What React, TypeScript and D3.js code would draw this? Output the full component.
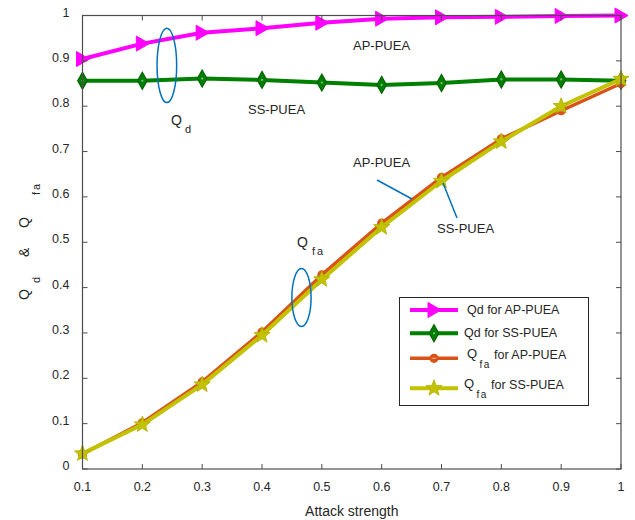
import React from 'react';
import * as d3 from 'd3';

// attack strength (x) and the four curves
const strength = [0.1, 0.2, 0.3, 0.4, 0.5, 0.6, 0.7, 0.8, 0.9, 1.0];
const qdAP = [0.904, 0.938, 0.962, 0.972, 0.984, 0.993, 0.996, 0.997, 0.999, 1.0];
const qdSS = [0.856, 0.856, 0.861, 0.858, 0.852, 0.847, 0.851, 0.859, 0.859, 0.856];
const qfaAP = [0.033, 0.102, 0.192, 0.302, 0.428, 0.542, 0.643, 0.728, 0.79, 0.85];
const qfaSS = [0.034, 0.098, 0.186, 0.295, 0.418, 0.533, 0.635, 0.722, 0.8, 0.86];

const xTicks = [0.1, 0.2, 0.3, 0.4, 0.5, 0.6, 0.7, 0.8, 0.9, 1];
const yTicks = [0, 0.1, 0.2, 0.3, 0.4, 0.5, 0.6, 0.7, 0.8, 0.9, 1];

const legendLabels = ['Qd for AP-PUEA', 'Qd for SS-PUEA', 'for AP-PUEA', 'for SS-PUEA'];

const width = 635;
const height = 520;
const margin = { top: 15.5, right: 14, bottom: 51, left: 82.5 };

const FONT = '"Liberation Sans", Arial, Helvetica, sans-serif';
const AXIS = '#4d4d4d';
const TEXT = '#262626';
const BLUE = '#0072bd';

const colors = {
  ap: '#ff00ff',
  ss: '#008000',
  faAP: '#d95319',
  faSS: '#c2c200',
};

function starPath(R: number) {
  const r = R * 0.42;
  const pts: string[] = [];
  for (let i = 0; i < 10; i++) {
    const rad = i % 2 === 0 ? R : r;
    const a = -Math.PI / 2 + (i * Math.PI) / 5;
    pts.push(`${(rad * Math.cos(a)).toFixed(2)},${(rad * Math.sin(a)).toFixed(2)}`);
  }
  return `M${pts.join('L')}Z`;
}

const Marker = ({ kind, x, y }: { kind: string; x: number; y: number }) => {
  if (kind === 'ap') {
    return <path d="M-6,-7.5L7,0L-6,7.5Z" transform={`translate(${x},${y})`} fill={colors.ap} stroke={colors.ap} strokeWidth={1} />;
  }
  if (kind === 'ss') {
    return (
      <g transform={`translate(${x},${y})`}>
        <path d="M0,-8.5L4.8,0L0,8.5L-4.8,0Z" fill={colors.ss} stroke="#006400" strokeWidth={1.2} />
        <circle r={1.1} fill="#7fbf7f" />
      </g>
    );
  }
  if (kind === 'faAP') {
    return (
      <g transform={`translate(${x},${y})`}>
        <circle r={4.6} fill={colors.faAP} />
        <rect x={-2.2} y={-0.6} width={4.4} height={1.2} fill="#f0a07a" />
      </g>
    );
  }
  return <path d={starPath(8.5)} transform={`translate(${x},${y})`} fill={colors.faSS} stroke="#b0b000" strokeWidth={0.8} />;
};

const App: React.FC = () => {
  const x = d3.scaleLinear().domain([0.1, 1]).range([margin.left, width - margin.right]);
  const y = d3.scaleLinear().domain([0, 1]).range([height - margin.bottom, margin.top]);

  const line = d3
    .line<[number, number]>()
    .x((d) => x(d[0]))
    .y((d) => y(d[1]));

  const series = [
    { kind: 'ss', values: qdSS, w: 4 },
    { kind: 'ap', values: qdAP, w: 4 },
    { kind: 'faAP', values: qfaAP, w: 3.5 },
    { kind: 'faSS', values: qfaSS, w: 4 },
  ];
  const legendOrder = ['ap', 'ss', 'faAP', 'faSS'];

  const x0 = margin.left;
  const x1 = width - margin.right;
  const y0 = height - margin.bottom;
  const y1 = margin.top;

  // legend geometry (rows, and the slightly uneven text offsets of the original)
  const lg = { x: 399.5, y: 297.5, w: 189, h: 108 };
  const legendRows = [310, 333.3, 358.3, 388.3];
  const legendText = [467, 464, 467, 464];

  return (
    <svg width={width} height={height} style={{ position: 'absolute', left: 0, top: 0, background: '#fff' }} fontFamily={FONT}>
      <rect width={width} height={height} fill="#fff" />

      {/* curves */}
      {series.map((s) => (
        <g key={s.kind}>
          <path
            d={line(strength.map((v, i) => [v, s.values[i]]))!}
            fill="none"
            stroke={colors[s.kind as keyof typeof colors]}
            strokeWidth={s.w}
            strokeLinejoin="round"
          />
          {strength.map((v, i) => (
            <Marker key={i} kind={s.kind} x={x(v)} y={y(s.values[i])} />
          ))}
        </g>
      ))}

      {/* box + ticks */}
      <rect x={x0} y={y1} width={x1 - x0} height={y0 - y1} fill="none" stroke={AXIS} strokeWidth={1.2} />
      {xTicks.map((t) => (
        <g key={`xt${t}`}>
          <line x1={x(t)} x2={x(t)} y1={y0} y2={y0 - 5} stroke={AXIS} />
          <line x1={x(t)} x2={x(t)} y1={y1} y2={y1 + 5} stroke={AXIS} />
          <text x={x(t)} y={y0 + 22} textAnchor="middle" fontSize={12.5} fill={TEXT}>
            {d3.format('~g')(t)}
          </text>
        </g>
      ))}
      {yTicks.map((t) => (
        <g key={`yt${t}`}>
          <line x1={x0} x2={x0 + 5} y1={y(t)} y2={y(t)} stroke={AXIS} />
          <line x1={x1} x2={x1 - 5} y1={y(t)} y2={y(t)} stroke={AXIS} />
          <text x={x0 - 13} y={y(t) + 1} textAnchor="end" fontSize={12.5} fill={TEXT}>
            {d3.format('~g')(t)}
          </text>
        </g>
      ))}

      {/* axis labels */}
      <text x={(x0 + x1) / 2} y={516} textAnchor="middle" fontSize={14} fill={TEXT}>
        Attack strength
      </text>
      <g transform="rotate(-90)" fill={TEXT}>
        <text x={-300} y={29} fontSize={14}>Q</text>
        <text x={-283} y={40} fontSize={11}>d</text>
        <text x={-257} y={29} fontSize={14}>&amp;</text>
        <text x={-228} y={29} fontSize={14}>Q</text>
        <text x={-195} y={40} fontSize={11} letterSpacing={2}>fa</text>
      </g>

      {/* annotations */}
      <ellipse cx={x(0.241)} cy={y(0.89)} rx={9.8} ry={37.2} fill="none" stroke={BLUE} strokeWidth={1.5} />
      <ellipse cx={x(0.466)} cy={y(0.378)} rx={9.6} ry={29} fill="none" stroke={BLUE} strokeWidth={1.5} />
      <line x1={377} y1={180} x2={412} y2={199} stroke={BLUE} strokeWidth={1.5} />
      <line x1={443} y1={183} x2={457} y2={218} stroke={BLUE} strokeWidth={1.5} />

      <g fontSize={13} fill={TEXT}>
        <text x={353} y={50}>AP-PUEA</text>
        <text x={248} y={114}>SS-PUEA</text>
        <text x={353} y={167}>AP-PUEA</text>
        <text x={437} y={233}>SS-PUEA</text>
        <text x={171} y={125} fontSize={14}>Q</text>
        <text x={185} y={133} fontSize={11}>d</text>
        <text x={297} y={247} fontSize={14}>Q</text>
        <text x={312} y={255} fontSize={11} letterSpacing={2}>fa</text>
      </g>

      {/* legend */}
      <rect x={lg.x} y={lg.y} width={lg.w} height={lg.h} fill="#fff" stroke="#262626" strokeWidth={1} />
      {legendOrder.map((kind, i) => {
        const s = series.find((d) => d.kind === kind)!;
        const ly = legendRows[i];
        const tx = legendText[i];
        return (
          <g key={`lg${kind}`}>
            <line x1={410} x2={458} y1={ly} y2={ly} stroke={colors[kind as keyof typeof colors]} strokeWidth={s.w} />
            <Marker kind={kind} x={434} y={ly} />
            {i < 2 ? (
              <text x={tx} y={ly + 4} fontSize={12.5} fill={TEXT}>
                {legendLabels[i]}
              </text>
            ) : (
              <g fill={TEXT}>
                <text x={tx} y={ly - 0.5} fontSize={13}>Q</text>
                <text x={tx + 12.5} y={ly + 10} fontSize={10} letterSpacing={1.5}>fa</text>
                <text x={tx + 27} y={ly + 0.5} fontSize={12.5}>{legendLabels[i]}</text>
              </g>
            )}
          </g>
        );
      })}
    </svg>
  );
};

export default App;
